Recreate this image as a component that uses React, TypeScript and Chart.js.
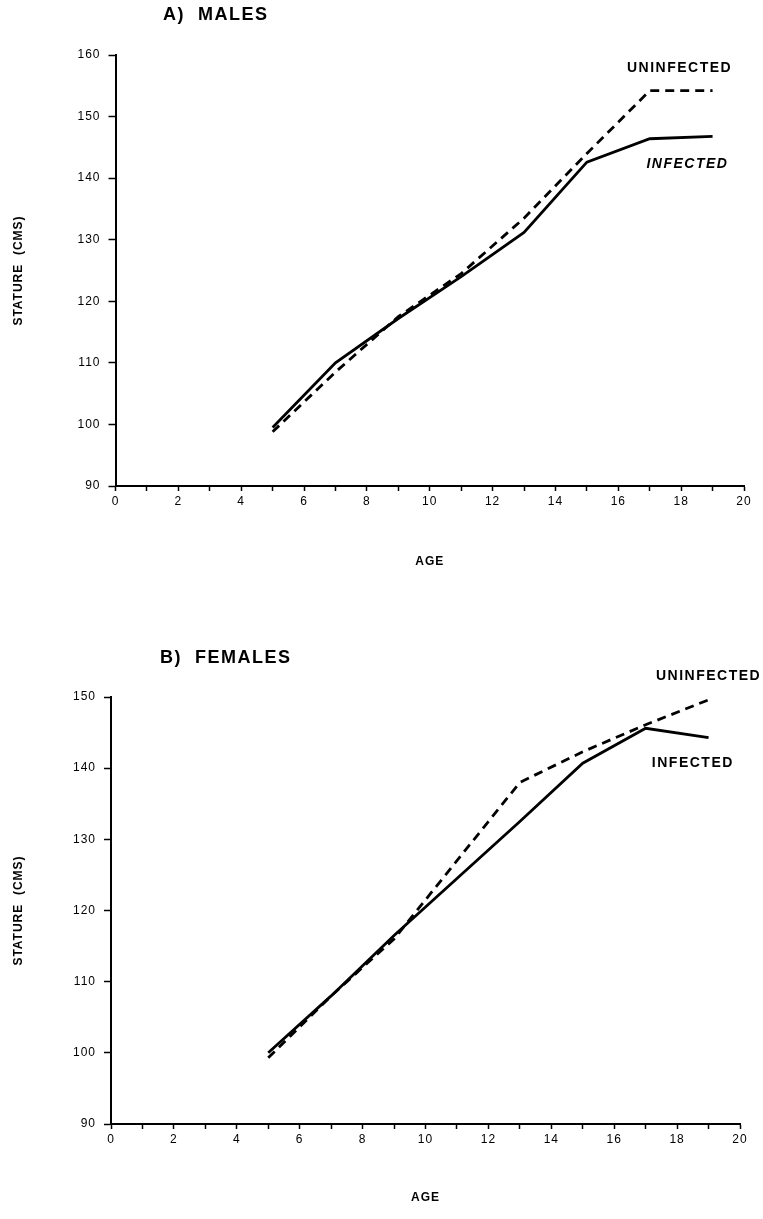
import React, { useEffect, useRef } from "react";
import { Chart, registerables } from "chart.js";

Chart.register(...registerables);

// ---- Data ----
const ages = [5, 7, 9, 11, 13, 15, 17, 19];
const malesInfected = [99.5, 110, 117.2, 124, 131.2, 142.6, 146.4, 146.8];
const malesUninfected = [98.8, 108.5, 117.5, 124.5, 133.5, 144, 154.2, 154.2];
const femalesInfected = [100, 108, 116.5, 124.5, 132.5, 140.7, 145.6, 144.3];
const femalesUninfected = [99.3, 108, 116, 127, 138, 142.3, 146.1, 149.6];
const xTickLabels = [0, 2, 4, 6, 8, 10, 12, 14, 16, 18, 20];
const malesYTicks = [90, 100, 110, 120, 130, 140, 150, 160];
const femalesYTicks = [90, 100, 110, 120, 130, 140, 150];

const FONT = '"Liberation Sans", Arial, Helvetica, sans-serif';

type Lbl = { text: string; x: number; y: number; italic?: boolean };

type PanelCfg = {
  title: string;
  infected: number[];
  uninfected: number[];
  yTicks: number[];
  padTop: number;
  padRight: number;
  yAxisW: number;
  xAxisH: number;
  xTitlePad: number;
  titleDx: number;
  titleDy: number;
  labels: Lbl[];
};

const malesCfg: PanelCfg = {
  title: "A)  MALES",
  infected: malesInfected,
  uninfected: malesUninfected,
  yTicks: malesYTicks,
  padTop: 55,
  padRight: 19,
  yAxisW: 115.5,
  xAxisH: 124,
  xTitlePad: 41,
  titleDx: 47.5,
  titleDy: 40,
  labels: [
    { text: "UNINFECTED", x: 17.95, y: 157.9 },
    { text: "INFECTED", x: 18.2, y: 142.3, italic: true },
  ],
};

const femalesCfg: PanelCfg = {
  title: "B)  FEMALES",
  infected: femalesInfected,
  uninfected: femalesUninfected,
  yTicks: femalesYTicks,
  padTop: 87,
  padRight: 23,
  yAxisW: 111,
  xAxisH: 95,
  xTitlePad: 14,
  titleDx: 49,
  titleDy: 39,
  labels: [
    { text: "UNINFECTED", x: 19.0, y: 152.9 },
    { text: "INFECTED", x: 18.5, y: 140.7 },
  ],
};

function makeConfig(p: PanelCfg): any {
  const annot = {
    id: "annot",
    beforeDraw(chart: any) {
      chart.ctx.letterSpacing = "1px";
    },
    afterDraw(chart: any) {
      const { ctx, chartArea, scales } = chart;
      ctx.save();
      ctx.fillStyle = "#000";
      ctx.textBaseline = "middle";
      ctx.letterSpacing = "1.5px";
      ctx.font = `bold 18px ${FONT}`;
      ctx.textAlign = "left";
      ctx.fillText(p.title, chartArea.left + p.titleDx, chartArea.top - p.titleDy);
      ctx.textAlign = "center";
      for (const l of p.labels) {
        ctx.font = `${l.italic ? "italic " : ""}bold 14px ${FONT}`;
        ctx.fillText(l.text, scales.x.getPixelForValue(l.x), scales.y.getPixelForValue(l.y));
      }
      ctx.restore();
    },
  };

  const yMin = p.yTicks[0];
  const yMax = p.yTicks[p.yTicks.length - 1];

  return {
    type: "line",
    data: {
      datasets: [
        {
          label: "INFECTED",
          data: ages.map((a, i) => ({ x: a, y: p.infected[i] })),
          borderColor: "#000",
          borderWidth: 2.8,
          pointRadius: 0,
          tension: 0,
          fill: false,
        },
        {
          label: "UNINFECTED",
          data: ages.map((a, i) => ({ x: a, y: p.uninfected[i] })),
          borderColor: "#000",
          borderWidth: 2.8,
          borderDash: [9, 6],
          pointRadius: 0,
          tension: 0,
          fill: false,
        },
      ],
    },
    options: {
      responsive: false,
      animation: false,
      devicePixelRatio: 1,
      layout: { padding: { top: p.padTop, right: p.padRight, left: 0, bottom: 0 } },
      plugins: {
        legend: { display: false },
        tooltip: { enabled: false },
        title: { display: false },
      },
      scales: {
        x: {
          type: "linear",
          min: 0,
          max: 20,
          afterBuildTicks: (s: any) => {
            const t = [];
            for (let v = 0; v <= 20; v++) t.push({ value: v });
            s.ticks = t;
          },
          ticks: {
            autoSkip: false,
            maxRotation: 0,
            color: "#000",
            padding: 3,
            font: { family: FONT, size: 12 },
            callback: (v: number) => (xTickLabels.includes(v) ? String(v) : ""),
          },
          grid: {
            drawOnChartArea: false,
            drawTicks: true,
            tickLength: 5,
            tickWidth: 1.5,
            tickColor: "#000",
          },
          border: { color: "#000", width: 2 },
          title: {
            display: true,
            text: "AGE",
            color: "#000",
            font: { family: FONT, size: 12, weight: "bold" },
            padding: { top: 0, bottom: p.xTitlePad },
          },
          afterFit: (s: any) => {
            s.height = p.xAxisH;
          },
        },
        y: {
          type: "linear",
          min: yMin,
          max: yMax,
          afterBuildTicks: (s: any) => {
            s.ticks = p.yTicks.map((v) => ({ value: v }));
          },
          ticks: {
            color: "#000",
            padding: 8,
            font: { family: FONT, size: 12 },
          },
          grid: {
            drawOnChartArea: false,
            drawTicks: true,
            tickLength: 7,
            tickWidth: 1.5,
            tickColor: "#000",
          },
          border: { color: "#000", width: 2 },
          title: {
            display: true,
            text: "STATURE  (CMS)",
            color: "#000",
            font: { family: FONT, size: 12, weight: "bold" },
            padding: { top: 11, bottom: 0 },
          },
          afterFit: (s: any) => {
            s.width = p.yAxisW;
          },
        },
      },
    },
    plugins: [annot],
  };
}

export default function App() {
  const topRef = useRef<HTMLCanvasElement>(null);
  const botRef = useRef<HTMLCanvasElement>(null);

  useEffect(() => {
    const c1 = new Chart(topRef.current as HTMLCanvasElement, makeConfig(malesCfg));
    const c2 = new Chart(botRef.current as HTMLCanvasElement, makeConfig(femalesCfg));
    return () => {
      c1.destroy();
      c2.destroy();
    };
  }, []);

  return (
    <div
      style={{
        position: "absolute",
        left: 0,
        top: 0,
        width: 763,
        height: 1219,
        background: "#fff",
      }}
    >
      <canvas
        ref={topRef}
        width={763}
        height={610}
        style={{ position: "absolute", left: 0, top: 0 }}
      />
      <canvas
        ref={botRef}
        width={763}
        height={609}
        style={{ position: "absolute", left: 0, top: 610 }}
      />
    </div>
  );
}
